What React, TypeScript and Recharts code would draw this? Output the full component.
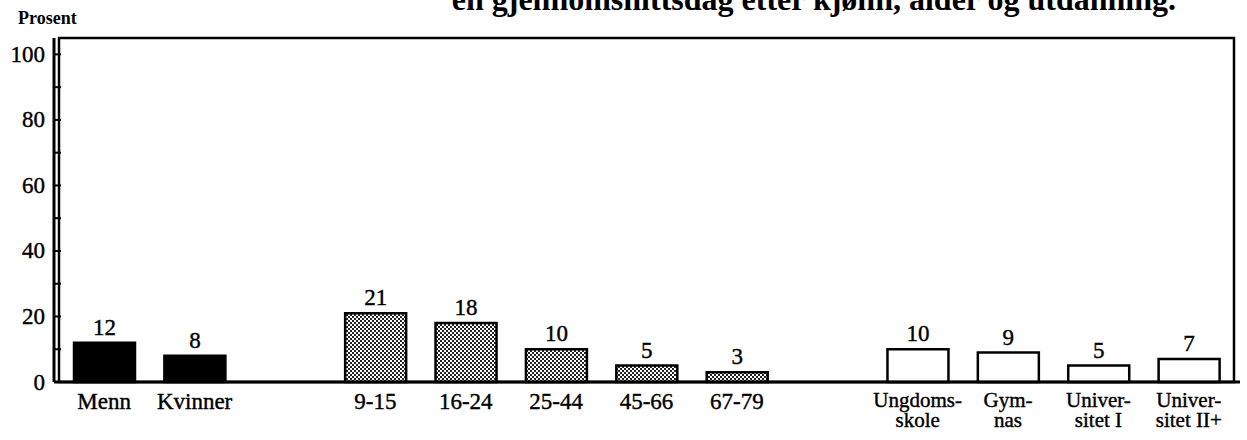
import React from "react"
import { BarChart, Bar, XAxis, YAxis, Cell, LabelList, ReferenceArea } from "recharts"

// slots along the x axis, the two "gap" slots stay empty
const categories = ["menn", "kvinner", "gap1", "9-15", "16-24", "25-44", "45-66", "67-79", "gap2", "ungdomsskole", "gymnas", "univ1", "univ2"]
const tickLabels = ["Menn", "Kvinner", "", "9-15", "16-24", "25-44", "45-66", "67-79", "", "Ungdoms-\nskole", "Gym-\nnas", "Univer-\nsitet I", "Univer-\nsitet II+"]
const values = [12, 8, null, 21, 18, 10, 5, 3, null, 10, 9, 5, 7]
const groups = ["kjonn", "kjonn", "", "alder", "alder", "alder", "alder", "alder", "", "utdanning", "utdanning", "utdanning", "utdanning"]
const yTicks = [0, 10, 20, 30, 40, 50, 60, 70, 80, 90, 100]

const title = "en gjennomsnittsdag etter kjønn, alder og utdanning."
const yLabel = "Prosent"

const data = categories.map((c, i) => ({ key: c, label: tickLabels[i], value: values[i], group: groups[i] }))

const FONT = "'Liberation Serif', 'Times New Roman', serif"

const fillFor = (group: string) => {
  if (group === "kjonn") return "#000"
  if (group === "alder") return "url(#dots)"
  return "#fff"
}

const YTick = (props: any) => {
  const { x, y, payload } = props
  const v = payload.value
  return (
    <g>
      <line x1={x} x2={x + 7} y1={y} y2={y} stroke="#000" strokeWidth={2} />
      {v % 20 === 0 && (
        <text x={x - 9} y={y} textAnchor="end" dominantBaseline="central" fontSize={23} fontFamily={FONT} fill="#000" stroke="#000" strokeWidth={0.4}>
          {v}
        </text>
      )}
    </g>
  )
}

const XTick = (props: any) => {
  const { x, y, index } = props
  const lines = (tickLabels[index] || "").split("\n")
  if (lines.length === 1) {
    return (
      <text x={x} y={y + 27} textAnchor="middle" fontSize={23} fontFamily={FONT} fill="#000" stroke="#000" strokeWidth={0.4}>
        {lines[0]}
      </text>
    )
  }
  return (
    <g>
      <text x={x} y={y + 25} textAnchor="middle" fontSize={21} fontFamily={FONT} fill="#000" stroke="#000" strokeWidth={0.4}>
        {lines[0]}
      </text>
      <text x={x} y={y + 45} textAnchor="middle" fontSize={21} fontFamily={FONT} fill="#000" stroke="#000" strokeWidth={0.4}>
        {lines[1]}
      </text>
    </g>
  )
}

const ValueLabel = (props: any) => {
  const { x, y, width, value } = props
  if (value === null || value === undefined) return null
  return (
    <text x={x + width / 2} y={y - 8} textAnchor="middle" fontSize={23} fontFamily={FONT} fill="#000" stroke="#000" strokeWidth={0.4}>
      {value}
    </text>
  )
}

export default function App() {
  return (
    <div style={{ position: "absolute", left: 0, top: 0, width: 1247, height: 440, background: "#fff", overflow: "hidden" }}>
      <svg width={0} height={0} style={{ position: "absolute" }}>
        <defs>
          <pattern id="dots" width={4} height={4} patternUnits="userSpaceOnUse">
            <rect width={4} height={4} fill="#fff" />
            <rect x={0} y={0} width={2} height={2} fill="#222" />
            <rect x={2} y={2} width={2} height={2} fill="#222" />
          </pattern>
        </defs>
      </svg>
      <BarChart width={1247} height={440} data={data} margin={{ top: 38, right: 7, bottom: 0, left: 0 }}>
        <ReferenceArea y1={0} y2={105} fill="none" stroke="#000" strokeWidth={2.5} ifOverflow="visible" />
        <XAxis
          dataKey="key"
          height={58}
          padding={{ left: 5, right: 6 }}
          interval={0}
          tickSize={0}
          tickMargin={0}
          tick={<XTick />}
          axisLine={{ stroke: "#000", strokeWidth: 3 }}
        />
        <YAxis
          width={54}
          domain={[0, 105]}
          ticks={yTicks}
          interval={0}
          tickSize={0}
          tickMargin={0}
          tick={<YTick />}
          axisLine={{ stroke: "#000", strokeWidth: 3 }}
        />
        <Bar dataKey="value" barSize={61} stroke="#000" strokeWidth={2.5} isAnimationActive={false}>
          {data.map((d) => (
            <Cell key={d.key} fill={fillFor(d.group)} />
          ))}
          <LabelList dataKey="value" content={<ValueLabel />} />
        </Bar>
      </BarChart>
      <svg width={1247} height={440} style={{ position: "absolute", left: 0, top: 0, pointerEvents: "none" }}>
        <text x={1176} y={10} textAnchor="end" fontSize={32} fontWeight="bold" fontFamily={FONT} fill="#000">
          {title}
        </text>
        <text x={18} y={24} fontSize={18} fontWeight="bold" fontFamily={FONT} fill="#000">
          {yLabel}
        </text>
      </svg>
    </div>
  )
}
